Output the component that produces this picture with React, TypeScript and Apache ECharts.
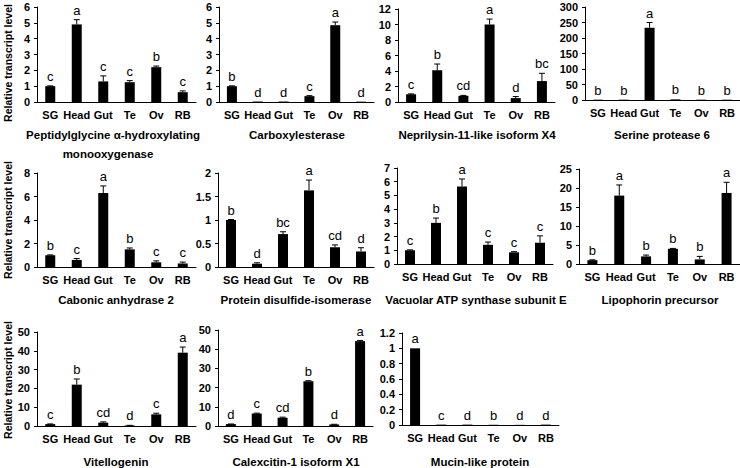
import React, { useEffect, useRef } from "react";
import * as echarts from "echarts";

const categories = ["SG", "Head", "Gut", "Te", "Ov", "RB"];

const phmValues = [1.0, 4.9, 1.3, 1.25, 2.2, 0.62];
const phmErrors = [0.02, 0.3, 0.35, 0.1, 0.07, 0.08];
const phmLetters = ["c", "a", "c", "c", "b", "c"];

const cxeValues = [1.0, 0.03, 0.03, 0.37, 4.85, 0.02];
const cxeErrors = [0.02, 0.0, 0.0, 0.03, 0.2, 0.0];
const cxeLetters = ["b", "d", "d", "c", "a", "d"];

const nepValues = [1.0, 4.1, 0.8, 10.0, 0.5, 2.7];
const nepErrors = [0.05, 0.8, 0.05, 0.7, 0.2, 1.0];
const nepLetters = ["c", "b", "cd", "a", "d", "bc"];

const serValues = [1, 1, 233, 2, 1, 1];
const serErrors = [0, 0, 17, 0, 0, 0];
const serLetters = ["b", "b", "a", "b", "b", "b"];

const canValues = [1.0, 0.6, 6.3, 1.5, 0.4, 0.3];
const canErrors = [0.03, 0.12, 0.6, 0.12, 0.12, 0.12];
const canLetters = ["b", "c", "a", "b", "c", "c"];

const pdiValues = [1.0, 0.07, 0.7, 1.63, 0.42, 0.33];
const pdiErrors = [0.01, 0.02, 0.05, 0.22, 0.05, 0.08];
const pdiLetters = ["b", "d", "bc", "a", "cd", "d"];

const vatValues = [1.0, 3.0, 5.65, 1.4, 0.85, 1.55];
const vatErrors = [0.03, 0.35, 0.55, 0.2, 0.05, 0.5];
const vatLetters = ["c", "b", "a", "c", "c", "c"];

const lipValues = [1.0, 18.0, 2.0, 4.0, 1.2, 18.7];
const lipErrors = [0.1, 2.8, 0.35, 0.1, 0.8, 2.8];
const lipLetters = ["b", "a", "b", "b", "b", "a"];

const vitValues = [1.0, 22.0, 1.8, 0.3, 6.2, 39.0];
const vitErrors = [0.1, 3.0, 0.4, 0.05, 0.6, 3.0];
const vitLetters = ["c", "b", "cd", "d", "c", "a"];

const calValues = [1.0, 6.5, 4.3, 23.3, 0.8, 44.2];
const calErrors = [0.05, 0.2, 0.3, 0.3, 0.1, 0.3];
const calLetters = ["d", "c", "cd", "b", "d", "a"];

const mucValues = [1.0, 0.005, 0.005, 0.003, 0.002, 0.005];
const mucErrors = [0.0, 0.0, 0.0, 0.0, 0.0, 0.0];
const mucLetters = ["a", "c", "d", "b", "d", "d"];

const yMax = [6, 6, 12, 300, 8, 2, 7, 25, 50, 50, 1.2];
const yInterval = [1, 1, 2, 50, 2, 0.5, 1, 5, 10, 10, 0.2];

const panelData = [
  [phmValues, phmErrors, phmLetters],
  [cxeValues, cxeErrors, cxeLetters],
  [nepValues, nepErrors, nepLetters],
  [serValues, serErrors, serLetters],
  [canValues, canErrors, canLetters],
  [pdiValues, pdiErrors, pdiLetters],
  [vatValues, vatErrors, vatLetters],
  [lipValues, lipErrors, lipLetters],
  [vitValues, vitErrors, vitLetters],
  [calValues, calErrors, calLetters],
  [mucValues, mucErrors, mucLetters],
] as [number[], number[], string[]][];

const titles = [
  "Carboxylesterase",
  "Neprilysin-11-like isoform X4",
  "Serine protease 6",
  "Cabonic anhydrase 2",
  "Protein disulfide-isomerase",
  "Vacuolar ATP synthase subunit E",
  "Lipophorin precursor",
  "Vitellogenin",
  "Calexcitin-1 isoform X1",
  "Mucin-like protein",
];

// layout: left, top, width, height
const grids = [
  [37, 7, 159, 95],
  [219, 7, 155, 95],
  [398, 9, 157, 93],
  [585, 7, 156, 93],
  [37, 173, 159, 94],
  [218, 173, 156, 94],
  [397, 168, 156, 96],
  [579, 169, 162, 95],
  [37, 332, 159, 94],
  [218, 330, 155, 96],
  [402, 333, 157, 92],
];

const titlePos = [
  [297, 135],
  [477, 135],
  [662, 135],
  [116, 300],
  [296, 300],
  [476, 300],
  [660, 300],
  [116, 462],
  [296, 462],
  [480, 462],
];

const FONT = "'Liberation Sans', Arial, sans-serif";

export default function App() {
  const ref = useRef<HTMLDivElement>(null);
  useEffect(() => {
    if (!ref.current) return;
    const chart = echarts.init(ref.current, undefined, { renderer: "svg" });
    const gridOpts: any[] = [];
    const xAxes: any[] = [];
    const yAxes: any[] = [];
    const series: any[] = [];
    panelData.forEach(([vals, errs, letters], i) => {
      const [l, t, w, h] = grids[i];
      gridOpts.push({ left: l, top: t, width: w, height: h, containLabel: false });
      xAxes.push({
        type: "category",
        gridIndex: i,
        data: categories,
        axisLine: { lineStyle: { color: "#000", width: 1 } },
        axisTick: { show: false },
        axisLabel: {
          color: "#000",
          fontFamily: FONT,
          fontWeight: "bold",
          fontSize: 11,
          margin: 7,
          interval: 0,
        },
      });
      yAxes.push({
        type: "value",
        gridIndex: i,
        min: 0,
        max: yMax[i],
        interval: yInterval[i],
        axisLine: { show: true, lineStyle: { color: "#000", width: 1 } },
        axisTick: { show: true, length: 3, lineStyle: { color: "#000" } },
        splitLine: { show: false },
        axisLabel: {
          color: "#000",
          fontFamily: FONT,
          fontWeight: "bold",
          fontSize: 11,
          margin: 7,
        },
      });
      series.push({
        type: "bar",
        xAxisIndex: i,
        yAxisIndex: i,
        data: vals,
        barWidth: 10,
        itemStyle: { color: "#000" },
        silent: true,
      });
      series.push({
        type: "custom",
        xAxisIndex: i,
        yAxisIndex: i,
        data: vals.map((v, k) => [k, v, errs[k]]),
        silent: true,
        z: 5,
        renderItem: (params: any, api: any) => {
          const k = api.value(0);
          const v = api.value(1);
          const e = api.value(2);
          const base = api.coord([k, v]);
          const top = api.coord([k, v + e]);
          const children: any[] = [];
          if (e > 0) {
            children.push({
              type: "line",
              shape: { x1: base[0], y1: base[1], x2: top[0], y2: top[1] },
              style: { stroke: "#000", lineWidth: 1 },
            });
            children.push({
              type: "line",
              shape: { x1: top[0] - 3, y1: top[1], x2: top[0] + 3, y2: top[1] },
              style: { stroke: "#000", lineWidth: 1 },
            });
          }
          children.push({
            type: "text",
            x: top[0],
            y: top[1] - 3,
            style: {
              text: letters[params.dataIndex],
              fill: "#000",
              font: `13px ${FONT}`,
              textAlign: "center",
              textVerticalAlign: "bottom",
            },
          });
          return { type: "group", children };
        },
      });
    });

    const graphics: any[] = [];
    [63, 220, 380].forEach((cy) => {
      graphics.push({
        type: "text",
        x: 8,
        y: cy,
        rotation: Math.PI / 2,
        style: {
          text: "Relative transcript level",
          fill: "#000",
          font: `bold 10.5px ${FONT}`,
          textAlign: "center",
          textVerticalAlign: "middle",
        },
      });
    });
    graphics.push({
      type: "text",
      x: 113,
      y: 135,
      style: {
        text: "Peptidylglycine α-hydroxylating",
        fill: "#000",
        font: `bold 11.5px ${FONT}`,
        textAlign: "center",
        textVerticalAlign: "middle",
      },
    });
    graphics.push({
      type: "text",
      x: 108,
      y: 154,
      style: {
        text: "monooxygenase",
        fill: "#000",
        font: `bold 11.5px ${FONT}`,
        textAlign: "center",
        textVerticalAlign: "middle",
      },
    });
    titles.forEach((t, i) => {
      graphics.push({
        type: "text",
        x: titlePos[i][0],
        y: titlePos[i][1],
        style: {
          text: t,
          fill: "#000",
          font: `bold 11.5px ${FONT}`,
          textAlign: "center",
          textVerticalAlign: "middle",
        },
      });
    });

    chart.setOption({
      animation: false,
      backgroundColor: "#fff",
      grid: gridOpts,
      xAxis: xAxes,
      yAxis: yAxes,
      series,
      graphic: graphics,
    });
    return () => chart.dispose();
  }, []);
  return <div ref={ref} style={{ width: 740, height: 468, position: "absolute", left: 0, top: 0 }} />;
}
